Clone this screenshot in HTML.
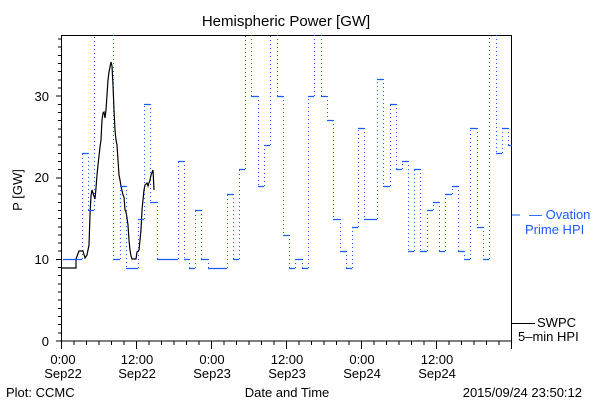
<!DOCTYPE html>
<html><head><meta charset="utf-8"><style>
html,body{margin:0;padding:0;background:#fff;}
svg{display:block;font-family:"Liberation Sans",sans-serif;}
</style></head><body>
<svg width="600" height="400" viewBox="0 0 600 400" xmlns="http://www.w3.org/2000/svg">
<rect width="600" height="400" fill="#fff"/>
<text x="286" y="26" font-size="15" text-anchor="middle">Hemispheric Power [GW]</text>
<text transform="translate(22,190) rotate(-90)" font-size="13" text-anchor="middle">P [GW]</text>
<g font-size="13" text-anchor="end">
<text x="49" y="346">0</text><text x="49" y="264">10</text><text x="49" y="182">20</text><text x="49" y="101">30</text>
</g>
<g font-size="13" text-anchor="middle">
<text x="63" y="364">0:00</text><text x="63" y="378">Sep22</text>
<text x="137" y="364">12:00</text><text x="137" y="378">Sep22</text>
<text x="212" y="364">0:00</text><text x="212" y="378">Sep23</text>
<text x="287" y="364">12:00</text><text x="287" y="378">Sep23</text>
<text x="362" y="364">0:00</text><text x="362" y="378">Sep24</text>
<text x="437" y="364">12:00</text><text x="437" y="378">Sep24</text>
<text x="287" y="397">Date and Time</text>
</g>
<text x="6" y="397" font-size="13">Plot: CCMC</text>
<text x="582" y="397" font-size="13" text-anchor="end">2015/09/24 23:50:12</text>
<g font-size="13" fill="#1a5cff">
<text x="529" y="219">— Ovation</text><text x="525" y="234">Prime HPI</text>
</g>
<g font-size="13">
<text x="537" y="327">SWPC</text><text x="518" y="341">5–min HPI</text>
</g>
<line x1="512" y1="215" x2="520" y2="215" stroke="#1a5cff"/>
<line x1="512" y1="323.5" x2="535" y2="323.5" stroke="#000"/>
<g stroke="#000" stroke-width="1" fill="none" shape-rendering="crispEdges">
<rect x="61.5" y="35.5" width="450" height="305.5"/>
<path d="
M56 341H61 M58 332.8H61 M58 324.7H61 M58 316.5H61 M58 308.4H61 M58 300.2H61 M58 292H61 M58 283.9H61 M58 275.7H61 M58 267.6H61
M56 259.4H61 M58 251.2H61 M58 243.1H61 M58 234.9H61 M58 226.8H61 M58 218.6H61 M58 210.4H61 M58 202.3H61 M58 194.1H61 M58 186H61
M56 177.8H61 M58 169.6H61 M58 161.5H61 M58 153.3H61 M58 145.2H61 M58 137H61 M58 128.8H61 M58 120.7H61 M58 112.5H61 M58 104.4H61
M56 96.2H61 M58 88H61 M58 79.9H61 M58 71.7H61 M58 63.6H61 M58 55.4H61 M58 47.2H61 M58 39.1H61"/>
<path d="M61.5 341V349 M74 341V345 M86.5 341V345 M99 341V345 M111.5 341V345 M124 341V345
M136.5 341V349 M149 341V345 M161.5 341V345 M174 341V345 M186.5 341V345 M199 341V345
M211.5 341V349 M224 341V345 M236.5 341V345 M249 341V345 M261.5 341V345 M274 341V345
M286.5 341V349 M299 341V345 M311.5 341V345 M324 341V345 M336.5 341V345 M349 341V345
M361.5 341V349 M374 341V345 M386.5 341V345 M399 341V345 M411.5 341V345 M424 341V345
M436.5 341V349 M449 341V345 M461.5 341V345 M474 341V345 M486.5 341V345 M499 341V345 M511.5 341V349"/>
</g>
<path fill="none" stroke="#1a5cff" stroke-width="1" stroke-dasharray="1,3" d="
M82.5 259V153 M88.5 153V210 M94.5 210V35 M113.5 35V259 M120.5 259V186 M126.5 186V268 M138.5 268V219 M144.5 219V104 M150.5 104V202 M157.5 202V259
M178.5 259V161 M184.5 161V259 M189.5 259V268 M195.5 268V210 M201.5 210V259 M208.5 259V268 M227.5 268V194 M233.5 194V259 M239.5 259V169 M245.5 169V35
M251.5 35V96 M258.5 96V186 M264.5 186V145 M270.5 145V35 M277.5 35V96 M283.5 96V235 M289.5 235V268 M295.5 268V259 M302.5 259V268 M308.5 268V96
M314.5 96V35 M321.5 35V96 M327.5 96V120 M333.5 120V219 M340.5 219V251 M346.5 251V268 M352.5 268V227 M358.5 227V128 M364.5 128V219 M377.5 219V79
M383.5 79V186 M390.5 186V104 M396.5 104V169 M402.5 169V161 M408.5 161V251 M414.5 251V169 M420.5 169V251 M427.5 251V210 M433.5 210V202 M439.5 202V251
M445.5 251V194 M452.5 194V186 M458.5 186V251 M464.5 251V259 M470.5 259V128 M477.5 128V227 M483.5 227V259 M489.5 259V35 M496.5 35V153 M502.5 153V128 M508.5 128V145"/>
<path fill="none" stroke="#000" stroke-width="1.2" d="M61 268L76 268L76 259L79 251L83 251L85 258L87 255L89 245L90 215L91 196L92 190L95 199L96 188L97 175L98 165L99 156L100 147L101 140L102 120L103 113L104 112L105 118L106 110L107 95L108 80L109 72L110 67L111 62L112 66L113 85L114 110L115 130L116 140L117 145L118 160L119 175L120 180L121 186L123 195L124 197L125 210L126 212L127 218L128 225L129 240L130 250L131 256L132 259L136 259L137 252L139 250L140 240L141 230L142 210L143 200L144 190L145 185L147 183L148 186L150 180L151 175L153 170L154 190"/>
<path fill="none" stroke="#1a5cff" stroke-width="1.3" d="
M63 259.5H82 M82 153.5H88 M88 210.5H94 M113 259.5H120 M120 186.5H126 M126 268.5H138 M138 219.5H144 M144 104.5H150 M150 202.5H157 M157 259.5H178
M178 161.5H184 M184 259.5H189 M189 268.5H195 M195 210.5H201 M201 259.5H208 M208 268.5H227 M227 194.5H233 M233 259.5H239 M239 169.5H245
M251 96.5H258 M258 186.5H264 M264 145.5H270 M277 96.5H283 M283 235.5H289 M289 268.5H295 M295 259.5H302 M302 268.5H308 M308 96.5H314
M321 96.5H327 M327 120.5H333 M333 219.5H340 M340 251.5H346 M346 268.5H352 M352 227.5H358 M358 128.5H364 M364 219.5H377 M377 79.5H383
M383 186.5H390 M390 104.5H396 M396 169.5H402 M402 161.5H408 M408 251.5H414 M414 169.5H420 M420 251.5H427 M427 210.5H433 M433 202.5H439
M439 251.5H445 M445 194.5H452 M452 186.5H458 M458 251.5H464 M464 259.5H470 M470 128.5H477 M477 227.5H483 M483 259.5H489 M496 153.5H502 M502 128.5H508 M508 145.5H512"/>
</svg>
</body></html>
